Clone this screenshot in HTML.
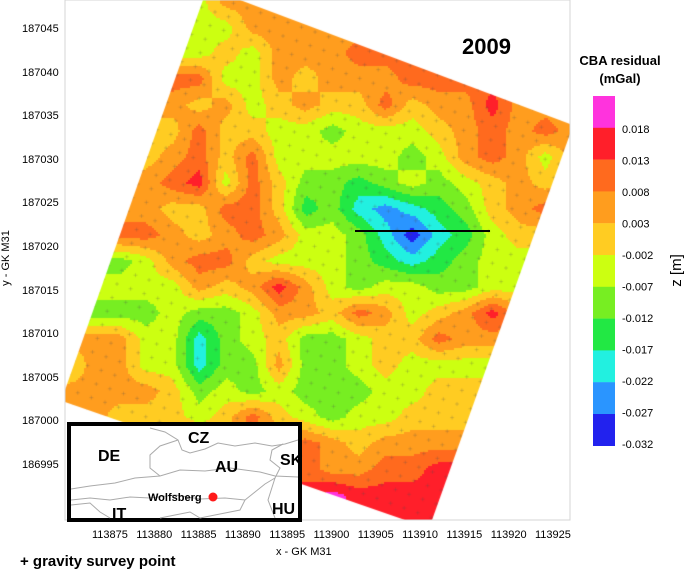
<!DOCTYPE html>
<html><head><meta charset="utf-8">
<style>
body{margin:0;background:#fff;width:700px;height:569px;overflow:hidden;position:relative;font-family:"Liberation Sans",sans-serif}
.t{position:absolute;font-size:11px;color:#000}
.b{font-weight:bold}
</style></head><body>
<canvas id="map" width="700" height="569" style="position:absolute;left:0;top:0"></canvas>
<svg id="ov" width="700" height="569" style="position:absolute;left:0;top:0">
<rect x="65" y="0" width="505" height="520" fill="none" stroke="#d4d4d4" stroke-width="1"/>
<line x1="355" y1="231" x2="490" y2="231" stroke="#000" stroke-width="2"/>
<g>
<rect x="69" y="424" width="231" height="96" fill="#fff" stroke="#000" stroke-width="4"/>
<path d="M71 489 L90 486 L115 483 L135 478 L160 476 L180 470 L205 471 L230 468 L260 472 L275 476 L298 477" fill="none" stroke="#aaa" stroke-width="1"/>
<path d="M71 500 L90 498 L110 500 L130 497 L150 498 L175 495 L200 499 L225 498 L245 500 L255 492 L265 484 L275 478" fill="none" stroke="#aaa" stroke-width="1"/>
<path d="M150 428 L165 432 L178 440 L182 450 L190 453 L205 449 L218 443 L235 446 L255 443 L272 446 L285 444 L298 440" fill="none" stroke="#aaa" stroke-width="1"/>
<path d="M178 440 L160 446 L150 455 L150 468 L160 476 M283 444 L272 450 L270 460 L280 468 L275 478 M245 500 L240 510 L225 513 L200 518 L190 512 L175 515 L160 518 M275 478 L268 500 L275 518 M71 505 L90 503 L100 512 L110 518" fill="none" stroke="#aaa" stroke-width="1"/>
<circle cx="213" cy="497" r="4.5" fill="#ff1a1a"/>
<text x="98" y="461" font-size="16" font-weight="bold">DE</text>
<text x="188" y="443" font-size="16" font-weight="bold">CZ</text>
<text x="215" y="472" font-size="16" font-weight="bold">AU</text>
<text x="280" y="465" font-size="16" font-weight="bold">SK</text>
<text x="148" y="501" font-size="11" font-weight="bold">Wolfsberg</text>
<text x="112" y="519" font-size="16" font-weight="bold">IT</text>
<text x="272" y="514" font-size="16" font-weight="bold">HU</text>
</g>
<g id="legend"></g>
<text x="20" y="566" font-size="15" font-weight="bold">+ gravity survey point</text>
</svg>
<div class="t b" style="left:462px;top:34px;font-size:22px">2009</div>
<div class="t b" style="left:570px;top:52px;width:100px;text-align:center;font-size:13px;line-height:18px">CBA residual<br>(mGal)</div>
<div class="t" style="left:660px;top:262px;font-size:15px;transform:rotate(-90deg);transform-origin:center">z [m]</div>
<div class="t" style="left:276px;top:546px;font-size:11px">x - GK M31</div>
<div class="t" style="left:-22px;top:252px;font-size:11px;transform:rotate(-90deg)">y - GK M31</div>
<div id="ticks"></div>
<script>
const xTicks=["113875","113880","113885","113890","113895","113900","113905","113910","113915","113920","113925"];
const yTicks=["187045","187040","187035","187030","187025","187020","187015","187010","187005","187000","186995"];
const legendLabels=["0.018","0.013","0.008","0.003","-0.002","-0.007","-0.012","-0.017","-0.022","-0.027","-0.032"];
const levelColors=["#ff33dd","#ff1f2a","#ff6a1e","#ff9d1e","#ffcc22","#ccff11","#77ee22","#22e844","#22f0e0","#2a95ff","#2222ee"];
const levelEdges=[0.018,0.013,0.008,0.003,-0.002,-0.007,-0.012,-0.017,-0.022,-0.027];
const gridRows=[
[.0055,.0055,.0055,.0055,-.0045,-.0045,.0055,.0055,.0055,.0055,.0055,.0055,.0055,.0055,.0055,.0055,.0055,.0055,.0055,.0055],
[-.0045,-.0045,-.0045,-.0045,-.0045,-.0045,-.0045,.0055,.0055,.0055,.0055,.0055,.0055,.0055,.0055,.0055,.0055,.0055,.0055,.0055],
[.0005,.0005,.0005,.0005,-.0045,-.0045,.0005,-.0045,.0055,.0055,.0055,.0105,.0105,.0105,.0105,.0105,.0105,.0105,.0105,.0105],
[.0055,.0055,.0055,.0055,.0105,.0105,-.0045,-.0045,.0055,.0005,.0055,.0055,.0055,.0105,.0105,.0105,.0105,.0105,.0105,.0105],
[.0055,.0055,.0055,.0055,.0055,.0005,.0055,-.0045,.0005,.0055,.0005,.0005,.0105,.0005,.0055,.0055,.0155,.0055,.0055,.0055],
[.0005,.0005,.0005,.0005,.0005,.0105,.0005,.0005,-.0045,-.0045,-.0095,-.0045,-.0045,-.0045,.0005,.0055,.0105,.0055,.0105,.0055],
[.0005,.0005,.0005,.0005,.0055,.0105,.0005,.0105,-.0045,-.0045,-.0045,-.0045,-.0045,-.0095,-.0045,.0055,.0105,.0055,-.0045,.0055],
[.0055,.0055,.0055,.0055,.0105,.0155,-.0045,.0105,.0005,-.0095,-.0095,-.0145,-.0095,-.0045,-.0095,-.0045,.0005,.0055,.0005,.0055],
[.0055,.0055,.0055,.0055,.0005,.0005,.0105,.0105,.0005,-.0145,-.0095,-.0195,-.0245,-.0195,-.0145,-.0095,.0005,.0055,.0105,.0105],
[.0105,.0105,.0105,.0105,.0055,.0005,.0055,.0105,.0055,-.0045,-.0045,-.0095,-.0195,-.03,-.0195,-.0145,-.0045,.0005,.0005,.0005],
[-.0095,-.0095,-.0095,-.0045,.0055,.0105,.0105,.0005,-.0045,-.0045,-.0045,-.0095,-.0145,-.0195,-.0145,-.0095,-.0045,-.0045,-.0045,-.0045],
[-.0045,-.0045,-.0045,-.0045,-.0045,.0055,.0005,.0055,.0155,.0055,-.0045,-.0095,-.0045,-.0045,-.0095,-.0095,-.0045,-.0045,-.0045,-.0045],
[-.0095,-.0095,-.0095,-.0095,-.0045,-.0095,-.0095,-.0045,.0055,.0055,.0005,.0105,.0055,-.0045,.0005,.0055,.0155,.0055,.0055,.0055],
[.0055,.0055,.0055,-.0045,-.0045,-.0195,-.0095,-.0045,.0005,-.0095,-.0095,-.0045,.0005,.0005,.0105,.0055,.0055,.0055,.0055,.0055],
[-.0045,.0055,.0055,-.0045,-.0045,-.0195,-.0095,-.0095,.0055,-.0095,-.0095,-.0045,.0005,-.0045,-.0045,-.0045,-.0045,-.0045,-.0045,-.0045],
[.0055,.0055,.0055,.0055,.0005,-.0095,-.0045,-.0095,-.0045,-.0095,-.0095,-.0095,-.0045,-.0045,.0005,.0005,.0005,.0005,.0005,.0005],
[.0055,.0055,.0005,.0005,.0005,-.0045,.0005,.0105,.0005,-.0045,-.0095,-.0045,-.0045,.0005,.0005,.0005,.0005,.0005,.0005,.0005],
[.0055,.0055,.0055,.0055,.0055,.0055,.0055,.0055,.0055,.0105,.0055,.0005,.0055,.0055,.0055,.0055,.0055,.0055,.0055,.0055],
[.0105,.0105,.0105,.0105,.0105,.0105,.0105,.0105,.0105,.0105,.0055,.0055,.0105,.0105,.0155,.0155,.0155,.0155,.0155,.0155],
[.0155,.0155,.0155,.0155,.0155,.0155,.0155,.0155,.0155,.0155,.02,.0155,.0155,.0155,.0155,.0155,.0155,.0155,.0155,.0155],
[.0155,.0155,.0155,.0155,.0155,.0155,.0155,.0155,.0155,.02,.02,.02,.0155,.0155,.0155,.0155,.0155,.0155,.0155,.0155]];

const X0=65,X1=571,Y0=0,Y1=520;
function colorFor(v){for(let k=0;k<levelEdges.length;k++){if(v>=levelEdges[k])return levelColors[k];}return levelColors[10];}
function sample(x,y){
 const nc=gridRows[0].length-1,nr=gridRows.length-1;
 let fx=(x-X0)/(X1-X0)*nc,fy=(y-Y0)/(Y1-Y0)*nr;
 fx=Math.max(0,Math.min(nc-0.0001,fx));fy=Math.max(0,Math.min(nr-0.0001,fy));
 const i=Math.floor(fx),j=Math.floor(fy),a=fx-i,b=fy-j;
 return (gridRows[j][i]*(1-a)+gridRows[j][i+1]*a)*(1-b)+(gridRows[j+1][i]*(1-a)+gridRows[j+1][i+1]*a)*b;
}
const cv=document.getElementById('map'),ctx=cv.getContext('2d');
ctx.save();
ctx.beginPath();ctx.moveTo(203,0);ctx.lineTo(240,0);ctx.lineTo(570,124);ctx.lineTo(570,134);ctx.lineTo(432,520);ctx.lineTo(405,520);ctx.lineTo(65,402);ctx.lineTo(65,390);ctx.closePath();ctx.clip();
for(let y=0;y<520;y+=2){for(let x=64;x<572;x+=2){ctx.fillStyle=colorFor(sample(x,y));ctx.fillRect(x,y,2,2);}}
ctx.strokeStyle='rgba(80,80,80,0.35)';ctx.lineWidth=0.6;
for(let a=-30;a<30;a++){for(let b=-5;b<40;b++){
 const px=205+a*13.6+b*(-4.9)+10, py=a*4.8+b*13.6+12;
 if(px<60||px>575||py<0||py>520)continue;
 ctx.beginPath();ctx.moveTo(px-2,py);ctx.lineTo(px+2,py);ctx.moveTo(px,py-2);ctx.lineTo(px,py+2);ctx.stroke();}}
ctx.restore();
const lg=document.getElementById('legend'),NS='http://www.w3.org/2000/svg';
levelColors.forEach((c,k)=>{
 const r=document.createElementNS(NS,'rect');
 
 
 r.setAttribute('x',593);r.setAttribute('y',96+k*31.8);r.setAttribute('width',22);r.setAttribute('height',32);r.setAttribute('fill',c);lg.appendChild(r);});
legendLabels.forEach((l,k)=>{
 const t=document.createElementNS(NS,'text');
 
 
 t.setAttribute('x',622);t.setAttribute('y',133+k*31.5);t.setAttribute('font-size','11');t.textContent=l;lg.appendChild(t);});
const tk=document.getElementById('ticks');
xTicks.forEach((l,k)=>{const d=document.createElement('div');
 
 
 d.className='t';d.style.left=(110+k*44.3-18)+'px';d.style.top='529px';d.textContent=l;tk.appendChild(d);});
yTicks.forEach((l,k)=>{const d=document.createElement('div');
 
 
 d.className='t';d.style.left='22px';d.style.top=(30+k*43.6-7)+'px';d.textContent=l;tk.appendChild(d);});
</script>
</body></html>
